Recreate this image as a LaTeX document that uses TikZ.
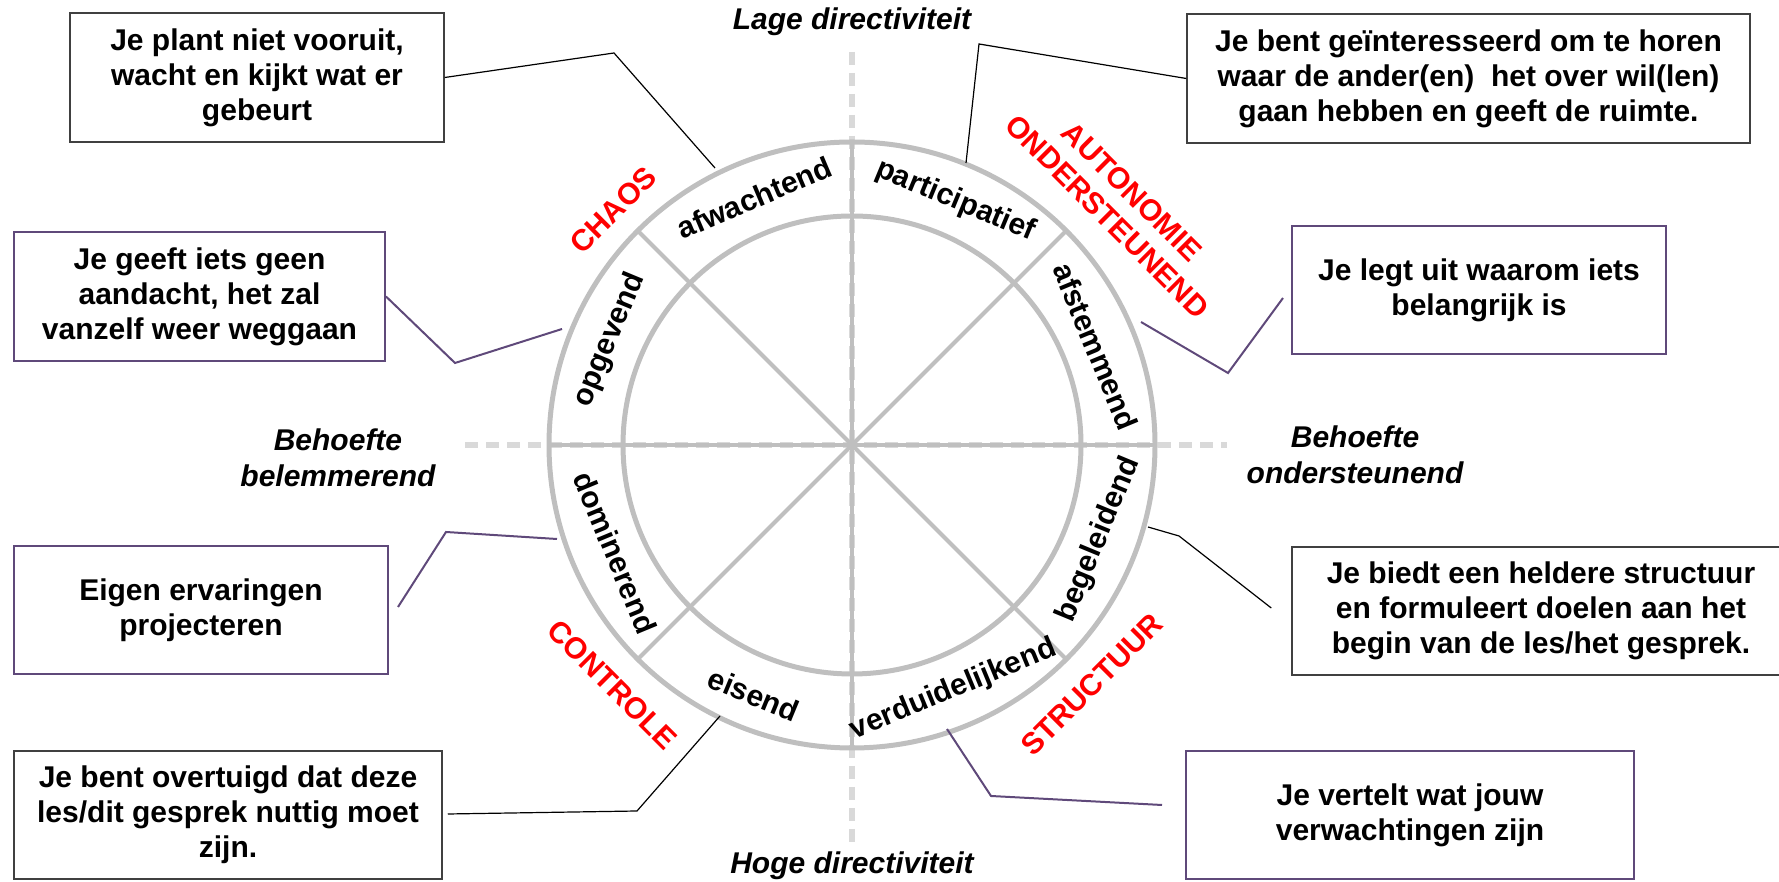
\documentclass[tikz,border=0pt]{standalone}
\usepackage{fontspec}
\setmainfont{Liberation Sans}
\definecolor{ringgray}{HTML}{BFBFBF}
\definecolor{dashgray}{HTML}{D9D9D9}
\definecolor{boxpurple}{HTML}{5F497A}
\definecolor{boxdark}{HTML}{404040}
\definecolor{labelred}{HTML}{FF0000}
\newcommand{\txtfont}{\fontsize{30}{35}\selectfont\bfseries}
\newcommand{\axfont}{\fontsize{30}{36}\selectfont\bfseries\itshape}
\begin{document}
\begin{tikzpicture}[x=1pt,y=1pt,
  ring/.style={draw=ringgray, line width=5pt},
  spoke/.style={draw=ringgray, line width=4pt},
  axisline/.style={draw=dashgray, line width=6pt, dash pattern=on 13pt off 8pt},
  ringlab/.style={font=\txtfont, inner sep=0pt},
  redlab/.style={font=\txtfont, text=labelred, inner sep=0pt, align=center},
  axlab/.style={font=\axfont, inner sep=0pt, align=center},
  darkbox/.style={draw=boxdark, line width=1.5pt, inner sep=0pt, align=center, font=\txtfont},
  purplebox/.style={draw=boxpurple, line width=2pt, inner sep=0pt, align=center, font=\txtfont},
  darklead/.style={draw=black, line width=1.2pt},
  purplelead/.style={draw=boxpurple, line width=2pt}
]
\useasboundingbox (0,0) rectangle (1779,882);
\coordinate (C) at (852,437);

% dashed axes
\coordinate (vt) at (852,830);
\coordinate (vb) at (852,37);
\coordinate (hl) at (465,437);
\coordinate (hr) at (1227,437);
\draw[axisline] (vt) -- (vb);
\draw[axisline] (hl) -- (hr);

% wheel: spokes and rings
\foreach \a in {0,45,...,315}
  \draw[spoke] (C) -- ([shift={(\a:303)}]C);
\draw[ring] (C) circle[radius=229];
\draw[ring] (C) circle[radius=303];

% segment labels
\node[ringlab, rotate=23]   (s1) at ([shift={(111.5:266)}]C) {afwachtend};
\node[ringlab, rotate=-22.5] (s2) at ([shift={(67:265)}]C) {participatief};
\node[ringlab, rotate=-67.5] (s3) at ([shift={(22:263)}]C) {afstemmend};
\node[ringlab, rotate=67.5]  (s4) at ([shift={(-21:264)}]C) {begeleidend};
\node[ringlab, rotate=22.5]  (s5) at ([shift={(-67.5:265)}]C) {verduidelijkend};
\node[ringlab, rotate=-22.5] (s6) at ([shift={(-111.5:268)}]C) {eisend};
\node[ringlab, rotate=-67.5] (s7) at ([shift={(-155.5:260)}]C) {dominerend};
\node[ringlab, rotate=67.5]  (s8) at ([shift={(156.5:264)}]C) {opgevend};

% quadrant labels
\node[redlab, rotate=45]  (q1) at ([shift={(135.5:335)}]C) {CHAOS};
\node[redlab, rotate=-45] (q2) at ([shift={(42:360)}]C) {AUTONOMIE\\ONDERSTEUNEND};
\node[redlab, rotate=45]  (q3) at ([shift={(-45:339)}]C) {STRUCTUUR};
\node[redlab, rotate=-45] (q4) at ([shift={(-135:339)}]C) {CONTROLE};

% axis labels
\node[axlab] (top) at (852,860) {Lage directiviteit};
\node[axlab] (bot) at (852,16) {Hoge directiviteit};
\node[axlab] (lft) at (338,424) {Behoefte\\belemmerend};
\node[axlab] (rgt) at (1355,427) {Behoefte\\ondersteunend};

% description boxes
\node[darkbox, minimum width=374pt, minimum height=129pt] (b1) at (257,804.5)
  {Je plant niet vooruit,\\wacht en kijkt wat er\\gebeurt};
\node[darkbox, minimum width=563pt, minimum height=129pt] (b2) at (1468.5,803.5)
  {Je bent geïnteresseerd om te horen\\waar de ander(en)~ het over wil(len)\\gaan hebben en geeft de ruimte.};
\node[purplebox, minimum width=371pt, minimum height=129pt] (b3) at (199.5,585.5)
  {Je geeft iets geen\\aandacht, het zal\\vanzelf weer weggaan};
\node[purplebox, minimum width=374pt, minimum height=128pt] (b4) at (1479,592)
  {Je legt uit waarom iets\\belangrijk is};
\node[purplebox, minimum width=374pt, minimum height=128pt] (b5) at (201,272)
  {Eigen ervaringen\\projecteren};
\node[darkbox, minimum width=498pt, minimum height=128pt] (b6) at (1541,271)
  {Je biedt een heldere structuur\\en formuleert doelen aan het\\begin van de les/het gesprek.};
\node[darkbox, minimum width=428pt, minimum height=128pt] (b7) at (228,67)
  {Je bent overtuigd dat deze\\les/dit gesprek nuttig moet\\zijn.};
\node[purplebox, minimum width=448pt, minimum height=128pt] (b8) at (1410,67)
  {Je vertelt wat jouw\\verwachtingen zijn};

% leader lines from boxes to the wheel
\coordinate (k1) at (614,829);  \coordinate (e1) at (715,714);
\coordinate (k2) at (979,838);  \coordinate (e2) at (966,719);
\coordinate (k3) at (455,519);  \coordinate (e3) at (562,553);
\coordinate (k4) at (1228,509); \coordinate (e4) at (1141,560);
\coordinate (k5) at (446,350);  \coordinate (e5) at (557,343);
\coordinate (k6) at (1179,346); \coordinate (e6) at (1148,355);
\coordinate (k7) at (637,71);   \coordinate (e7) at (720,166);
\coordinate (k8) at (991,86);   \coordinate (e8) at (947,153);

\draw[darklead] (b1.east) -- (k1) -- (e1);
\draw[darklead] (b2.west) -- (k2) -- (e2);
\draw[purplelead] (b3.east) -- (k3) -- (e3);
\draw[purplelead] ([shift={(-8,-8)}]b4.west) -- (k4) -- (e4);
\draw[purplelead] ([shift={(9,3)}]b5.east) -- (k5) -- (e5);
\draw[darklead] ([shift={(-20,3)}]b6.west) -- (k6) -- (e6);
\draw[darklead] ([shift={(5,1)}]b7.east) -- (k7) -- (e7);
\draw[purplelead] ([shift={(-23,10)}]b8.west) -- (k8) -- (e8);
\end{tikzpicture}
\end{document}
